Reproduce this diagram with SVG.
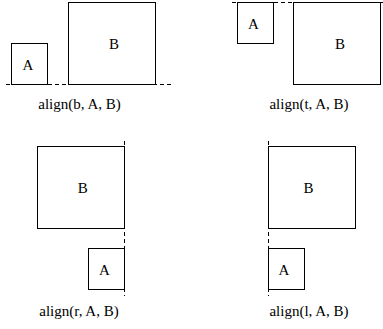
<svg xmlns="http://www.w3.org/2000/svg" width="383" height="329" viewBox="0 0 383 329">
<style>
.box{fill:none;stroke:#000;stroke-width:1}
.guide{fill:none;stroke:#000;stroke-width:1;stroke-dasharray:4 3}
text{font-family:"Liberation Serif","Times New Roman",serif;font-size:15px;fill:#000;text-anchor:middle}
</style>
<rect width="383" height="329" fill="#fff"/>
<g id="guides">
<line class="guide" x1="6" y1="84.5" x2="171" y2="84.5"/>
<line class="guide" x1="232" y1="2.5" x2="383" y2="2.5"/>
<line class="guide" x1="124.5" y1="141" x2="124.5" y2="296"/>
<line class="guide" x1="268.5" y1="141" x2="268.5" y2="296"/>
</g>
<g id="b-A"><rect class="box" x="11.5" y="43.5" width="36" height="41"/><text x="28" y="70">A</text></g>
<g id="b-B"><rect class="box" x="68.5" y="2.5" width="87" height="82"/><text x="114" y="49">B</text></g>
<text x="79.5" y="109">align(b, A, B)</text>
<g id="t-A"><rect class="box" x="237.5" y="2.5" width="36" height="41"/><text x="253.5" y="28.5">A</text></g>
<g id="t-B"><rect class="box" x="293.5" y="2.5" width="87" height="82"/><text x="340" y="48.5">B</text></g>
<text x="309" y="109">align(t, A, B)</text>
<g id="r-B"><rect class="box" x="37.5" y="146.5" width="87" height="82"/><text x="82.7" y="193">B</text></g>
<g id="r-A"><rect class="box" x="88.5" y="248.5" width="36" height="41"/><text x="104.5" y="275">A</text></g>
<text x="79" y="315.5">align(r, A, B)</text>
<g id="l-B"><rect class="box" x="268.5" y="146.5" width="87" height="82"/><text x="308.5" y="193">B</text></g>
<g id="l-A"><rect class="box" x="268.5" y="248.5" width="36" height="41"/><text x="284" y="275">A</text></g>
<text x="309" y="315.5">align(l, A, B)</text>
</svg>
